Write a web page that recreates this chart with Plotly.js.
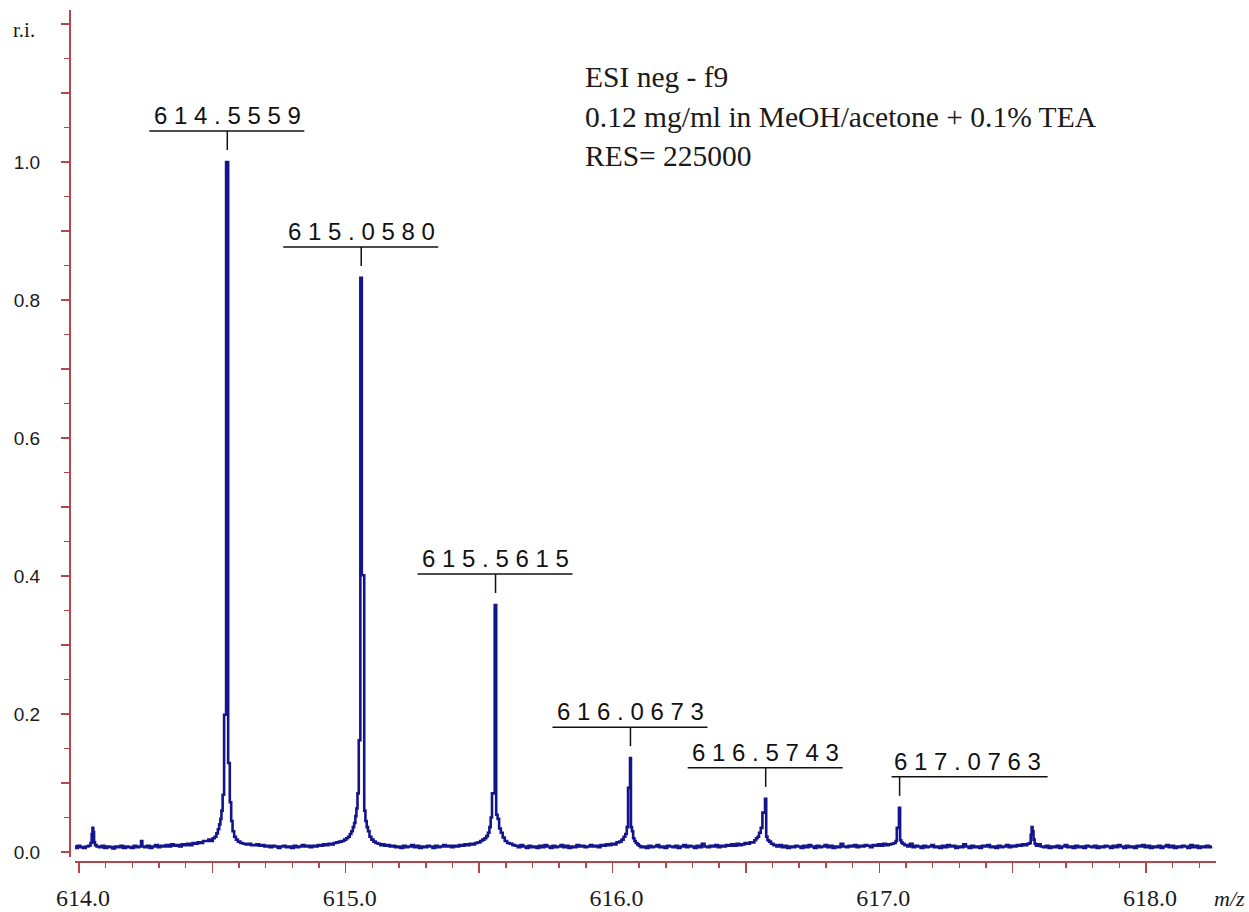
<!DOCTYPE html>
<html>
<head>
<meta charset="utf-8">
<script src="https://cdn.plot.ly/plotly-3.0.1.min.js"></script>
<style>
  html, body { margin: 0; padding: 0; background: #ffffff; }
  #chart { width: 1249px; height: 912px; }
</style>
</head>
<body>
<div id="chart"></div>
<script>
// ESI negative-mode profile spectrum, m/z 614-618, relative intensity (r.i.)
// The profile is stored window by window (m/z, r.i.).

const mzA = [613.985, 613.99, 614.00, 614.01, 614.02, 614.03, 614.04, 614.046, 614.049, 614.052, 614.055, 614.058, 614.062,
  614.07, 614.08, 614.09, 614.10, 614.11, 614.12, 614.13, 614.14, 614.15, 614.16, 614.17, 614.18, 614.19, 614.20, 614.21,
  614.22, 614.23, 614.235, 614.24, 614.25, 614.26, 614.27, 614.28, 614.29, 614.30, 614.31, 614.32, 614.33, 614.34, 614.35,
  614.36, 614.37, 614.38, 614.39, 614.40, 614.41, 614.42, 614.43, 614.44, 614.45, 614.46, 614.47];
const riA = [.008, .006, .009, .007, .006, .008, .009, .013, .026, .035, .029, .014, .010,
  .008, .007, .009, .006, .008, .007, .005, .008, .007, .009, .006, .008, .007, .006, .009,
  .007, .008, .016, .008, .007, .009, .006, .008, .010, .007, .009, .008, .010, .008, .011,
  .009, .010, .008, .011, .010, .012, .010, .013, .012, .014, .013, .016];

const mzB = [614.48, 614.49, 614.498, 614.505, 614.512, 614.518, 614.523, 614.528, 614.532, 614.536, 614.541, 614.547,
  614.5559, 614.5625, 614.568, 614.573, 614.5784, 614.585, 614.5912, 614.60, 614.61, 614.62, 614.63, 614.64, 614.65,
  614.66, 614.67, 614.68, 614.69, 614.70, 614.71, 614.72, 614.73, 614.74, 614.75, 614.76, 614.77, 614.78, 614.79, 614.80,
  614.81, 614.82, 614.83, 614.84, 614.85, 614.86, 614.87, 614.88, 614.89, 614.90, 614.91, 614.92, 614.93, 614.94, 614.95,
  614.96, 614.97, 614.98];
const riB = [.016, .018, .016, .020, .022, .027, .033, .040, .048, .060, .083, .199,
  1.0, .129, .072, .045, .030, .022, .018, .015, .013, .012, .011, .012, .010,
  .010, .011, .009, .010, .008, .009, .007, .009, .008, .006, .008, .009, .007, .008, .006,
  .009, .007, .008, .010, .008, .009, .007, .009, .008, .010, .009, .011, .010, .012, .011,
  .013, .014, .015];

const mzC = [614.99, 614.998, 615.005, 615.012, 615.018, 615.024, 615.029, 615.034, 615.038, 615.042, 615.046, 615.0515,
  615.058, 615.0625, 615.067, 615.0715, 615.076, 615.081, 615.086, 615.092, 615.10, 615.108, 615.116, 615.125, 615.134,
  615.14, 615.15, 615.16, 615.17, 615.18, 615.19, 615.20, 615.21, 615.22, 615.23, 615.24, 615.25, 615.26, 615.27, 615.28,
  615.29, 615.30, 615.31, 615.32, 615.33, 615.34, 615.35, 615.36, 615.37, 615.38, 615.39, 615.40, 615.41, 615.42, 615.43,
  615.44, 615.45, 615.46, 615.47, 615.48, 615.49];
const riC = [.016, .018, .020, .022, .026, .030, .036, .042, .052, .063, .085, .162,
  .832, .401, .401, .060, .045, .036, .030, .022, .018, .015, .013, .012, .010,
  .011, .009, .010, .008, .009, .007, .008, .006, .009, .007, .008, .010, .007, .009, .006,
  .008, .007, .009, .008, .006, .009, .007, .008, .010, .008, .009, .007, .009, .008, .010,
  .009, .011, .010, .012, .011, .013];

const mzD = [615.50, 615.508, 615.516, 615.524, 615.53, 615.536, 615.541, 615.5455, 615.551, 615.5555, 615.5615, 615.5665,
  615.572, 615.578, 615.5847, 615.592, 615.60, 615.61, 615.62, 615.63, 615.64, 615.65, 615.66, 615.67, 615.68, 615.69,
  615.70, 615.71, 615.72, 615.73, 615.74, 615.75, 615.76, 615.77, 615.78, 615.79, 615.80, 615.81, 615.82, 615.83, 615.84,
  615.85, 615.86, 615.87, 615.88, 615.89, 615.90, 615.91, 615.92, 615.93, 615.94, 615.95, 615.96, 615.97, 615.98, 615.99,
  616.00, 616.01, 616.02];
const riD = [.014, .016, .018, .020, .023, .028, .036, .050, .085, .085, .358, .054,
  .048, .034, .028, .021, .016, .013, .012, .010, .009, .007, .010, .008, .006, .009,
  .007, .008, .006, .009, .007, .010, .008, .006, .009, .007, .008, .010, .007, .009, .006,
  .008, .007, .010, .008, .009, .007, .008, .010, .008, .009, .007, .010, .009, .011, .010,
  .012, .011, .014];

const mzE = [616.03, 616.038, 616.045, 616.051, 616.056, 616.0605, 616.064, 616.0673, 616.071, 616.0748, 616.08, 616.0842,
  616.09, 616.0966, 616.10, 616.11, 616.12, 616.13, 616.14, 616.15, 616.16, 616.17, 616.18, 616.19, 616.20, 616.21, 616.22,
  616.23, 616.24, 616.25, 616.26, 616.27, 616.28, 616.29, 616.30, 616.31, 616.32, 616.33, 616.34, 616.35, 616.36, 616.37,
  616.38, 616.39, 616.40, 616.41, 616.42, 616.43, 616.44, 616.45, 616.46, 616.47, 616.48, 616.49, 616.50, 616.51, 616.52];
const riE = [.015, .018, .022, .026, .036, .093, .093, .136, .036, .030, .020, .016,
  .013, .011, .009, .007, .008, .006, .009, .007, .008, .010, .007, .008, .006, .009, .008,
  .007, .009, .006, .008, .010, .007, .009, .008, .006, .009, .007, .012, .008, .007, .009,
  .008, .010, .007, .009, .008, .010, .009, .011, .009, .012, .010, .011, .013, .012, .014];

const mzF = [616.528, 616.535, 616.541, 616.5466, 616.552, 616.5593, 616.5645, 616.569, 616.5743, 616.5781, 616.584, 616.5904,
  616.598, 616.6092, 616.62, 616.63, 616.64, 616.65, 616.66, 616.67, 616.68, 616.69, 616.70, 616.71, 616.72, 616.73, 616.74,
  616.75, 616.76, 616.77, 616.78, 616.79, 616.80, 616.81, 616.82, 616.83, 616.84, 616.85, 616.86, 616.87, 616.88, 616.89,
  616.90, 616.91, 616.92, 616.93, 616.94, 616.95, 616.96, 616.97, 616.98, 616.99, 617.00, 617.01, 617.02, 617.03, 617.04,
  617.05];
const riF = [.014, .017, .020, .022, .028, .035, .057, .057, .077, .022, .017, .015,
  .012, .010, .008, .010, .007, .009, .006, .008, .007, .009, .008, .006, .009, .007, .010,
  .008, .006, .009, .007, .008, .010, .007, .009, .006, .008, .007, .012, .008, .007, .009,
  .008, .010, .007, .009, .008, .010, .009, .007, .010, .009, .011, .009, .012, .010, .011,
  .012];

const mzG = [617.059, 617.064, 617.0675, 617.0715, 617.0763, 617.08, 617.085, 617.089, 617.10, 617.11, 617.12, 617.13,
  617.14, 617.15, 617.16, 617.17, 617.18, 617.19, 617.20, 617.21, 617.22, 617.23, 617.24, 617.25, 617.26, 617.27, 617.28,
  617.29, 617.30, 617.31, 617.32, 617.33, 617.34, 617.35, 617.36, 617.37, 617.38, 617.39, 617.40, 617.41, 617.42, 617.43,
  617.44, 617.45, 617.46, 617.47, 617.48, 617.49, 617.50, 617.51, 617.52, 617.53, 617.54, 617.55, 617.56];
const riG = [.013, .016, .035, .035, .064, .017, .014, .012, .010, .008, .012, .007,
  .009, .008, .006, .009, .007, .008, .010, .007, .008, .006, .009, .007, .010, .008, .009,
  .006, .008, .007, .011, .008, .006, .009, .007, .008, .006, .009, .008, .010, .007, .008,
  .006, .009, .007, .008, .010, .007, .009, .008, .010, .009, .011, .010, .012];

const mzH = [617.566, 617.5695, 617.573, 617.5765, 617.58, 617.585,
  617.59, 617.60, 617.61, 617.62, 617.63, 617.64, 617.65, 617.66, 617.67, 617.68, 617.69, 617.70, 617.71, 617.72, 617.73,
  617.74, 617.75, 617.76, 617.77, 617.78, 617.79, 617.80, 617.81, 617.82, 617.83, 617.84, 617.85, 617.86, 617.87, 617.88,
  617.89, 617.90, 617.91, 617.92, 617.93, 617.94, 617.95, 617.96, 617.97, 617.98, 617.99,
  618.00, 618.01, 618.02, 618.03, 618.04, 618.05, 618.06, 618.07, 618.08, 618.09, 618.10, 618.11, 618.12, 618.13, 618.14,
  618.15, 618.16, 618.17, 618.18, 618.19, 618.20, 618.21, 618.22, 618.23, 618.24, 618.247];
const riH = [.013, .025, .036, .030, .018, .012,
  .009, .011, .008, .007, .009, .006, .008, .007, .009, .006, .008, .010, .007, .008, .006,
  .009, .007, .008, .006, .009, .008, .007, .009, .006, .008, .007, .009, .008, .006, .009,
  .007, .010, .008, .006, .009, .007, .008, .006, .009, .008, .010,
  .007, .009, .006, .008, .007, .009, .006, .008, .010, .007, .009, .006, .008, .007, .009,
  .008, .006, .010, .007, .009, .006, .008, .007, .009, .007, .008];

// Annotated isotope peaks (centroid m/z)
const labelMz = [614.5559, 615.0580, 615.5615, 616.0673, 616.5743, 617.0763];

// Axis ticks
const xTickVals = [614.0, 614.5, 615.0, 615.5, 616.0, 616.5, 617.0, 617.5, 618.0];
const xTickText = ['614.0', '', '615.0', '', '616.0', '', '617.0', '', '618.0'];
const yTickVals = [0.0, 0.1, 0.2, 0.3, 0.4, 0.5, 0.6, 0.7, 0.8, 0.9, 1.0, 1.1, 1.2];
const yTickText = ['0.0', '', '0.2', '', '0.4', '', '0.6', '', '0.8', '', '1.0', '', ''];

// Acquisition notes
const infoLines = ['ESI neg - f9', '0.12 mg/ml in MeOH/acetone + 0.1% TEA', 'RES= 225000'];

const mz = [].concat(mzA, mzB, mzC, mzD, mzE, mzF, mzG, mzH);
const ri = [].concat(riA, riB, riC, riD, riE, riF, riG, riH);

const AXIS = '#b3474c';
const INK = '#14148c';
const TEXT = '#1a1a1a';

function apexOf(m) {
  const i = mz.findIndex(v => Math.abs(v - m) < 1e-6);
  return ri[i];
}

// peak label layout: the last label hangs to the right of its peak
const labelHang = ['center', 'center', 'center', 'center', 'center', 'left'];

const shapes = [];
const annotations = [];

labelMz.forEach((m, k) => {
  const top = apexOf(m);
  const hangLeft = labelHang[k] === 'left';
  const bx0 = hangLeft ? -8 : -78;
  const bx1 = hangLeft ? 148 : 77;
  // bracket bar
  shapes.push({
    type: 'line', xref: 'x', yref: 'y', xsizemode: 'pixel', ysizemode: 'pixel',
    xanchor: m, yanchor: top, x0: bx0, x1: bx1, y0: 31, y1: 31,
    line: { color: '#111111', width: 1.5 }
  });
  // stem pointing at the peak
  shapes.push({
    type: 'line', xref: 'x', yref: 'y', xsizemode: 'pixel', ysizemode: 'pixel',
    xanchor: m, yanchor: top, x0: 0, x1: 0, y0: 12, y1: 31,
    line: { color: '#111111', width: 1.5 }
  });
  annotations.push({
    x: m, y: top, xref: 'x', yref: 'y',
    text: m.toFixed(4).split('').join(' '),
    showarrow: false,
    xanchor: hangLeft ? 'left' : 'center',
    xshift: hangLeft ? -8 : 0,
    yanchor: 'bottom', yshift: 31,
    font: { family: 'Liberation Sans, Arial, sans-serif', size: 24, color: '#111111' }
  });
});

const infoY = [0.9208, 0.8750, 0.8292];
infoLines.forEach((t, k) => {
  annotations.push({
    x: 0.4476, y: infoY[k], xref: 'paper', yref: 'paper',
    xanchor: 'left', yanchor: 'middle', showarrow: false, text: t,
    font: { family: 'Liberation Serif, Times New Roman, serif', size: 29.5, color: TEXT }
  });
});

// axis captions
annotations.push({
  x: -0.0515, y: 0.9765, xref: 'paper', yref: 'paper', xanchor: 'left', yanchor: 'middle',
  showarrow: false, text: 'r.i.',
  font: { family: 'Liberation Serif, Times New Roman, serif', size: 21, color: TEXT }
});
annotations.push({
  x: 0.9965, y: -0.0423, xref: 'paper', yref: 'paper', xanchor: 'left', yanchor: 'middle',
  showarrow: false, text: '<i>m/z</i>',
  font: { family: 'Liberation Serif, Times New Roman, serif', size: 22, color: TEXT }
});

const trace = {
  type: 'scatter', mode: 'lines', x: mz, y: ri,
  line: { color: INK, width: 2.6, shape: 'hvh' },
  hoverinfo: 'skip'
};

const layout = {
  width: 1249, height: 912,
  margin: { l: 70, r: 33, t: 10, b: 50 },
  paper_bgcolor: '#ffffff', plot_bgcolor: '#ffffff',
  showlegend: false,
  xaxis: {
    domain: [0.00436, 1], range: [613.985, 618.2624],
    anchor: 'free', position: 0,
    showline: true, linecolor: AXIS, linewidth: 2,
    showgrid: false, zeroline: false,
    ticks: 'outside', tickmode: 'array', tickvals: xTickVals, ticktext: xTickText,
    ticklen: 10, tickwidth: 1.5, tickcolor: AXIS,
    minor: { tickmode: 'linear', tick0: 614, dtick: 0.1, ticks: 'outside', ticklen: 5, tickwidth: 1.5, tickcolor: AXIS, showgrid: false },
    tickfont: { family: 'Liberation Serif, Times New Roman, serif', size: 24, color: TEXT },
    ticklabelstandoff: 4, ticklabelshift: 4
  },
  yaxis: {
    domain: [0.00587, 1], range: [-0.00725, 1.2203],
    anchor: 'free', position: 0,
    showline: true, linecolor: AXIS, linewidth: 2,
    showgrid: false, zeroline: false,
    ticks: 'outside', tickmode: 'array', tickvals: yTickVals, ticktext: yTickText,
    ticklen: 8, tickwidth: 1.5, tickcolor: AXIS,
    minor: { tickmode: 'linear', tick0: 0, dtick: 0.05, ticks: 'outside', ticklen: 5, tickwidth: 1.5, tickcolor: AXIS, showgrid: false },
    tickfont: { family: 'Liberation Sans, Arial, sans-serif', size: 19, color: TEXT },
    ticklabelstandoff: 17
  },
  shapes: shapes,
  annotations: annotations
};

Plotly.newPlot('chart', [trace], layout, { displayModeBar: false, staticPlot: true });
</script>
</body>
</html>
